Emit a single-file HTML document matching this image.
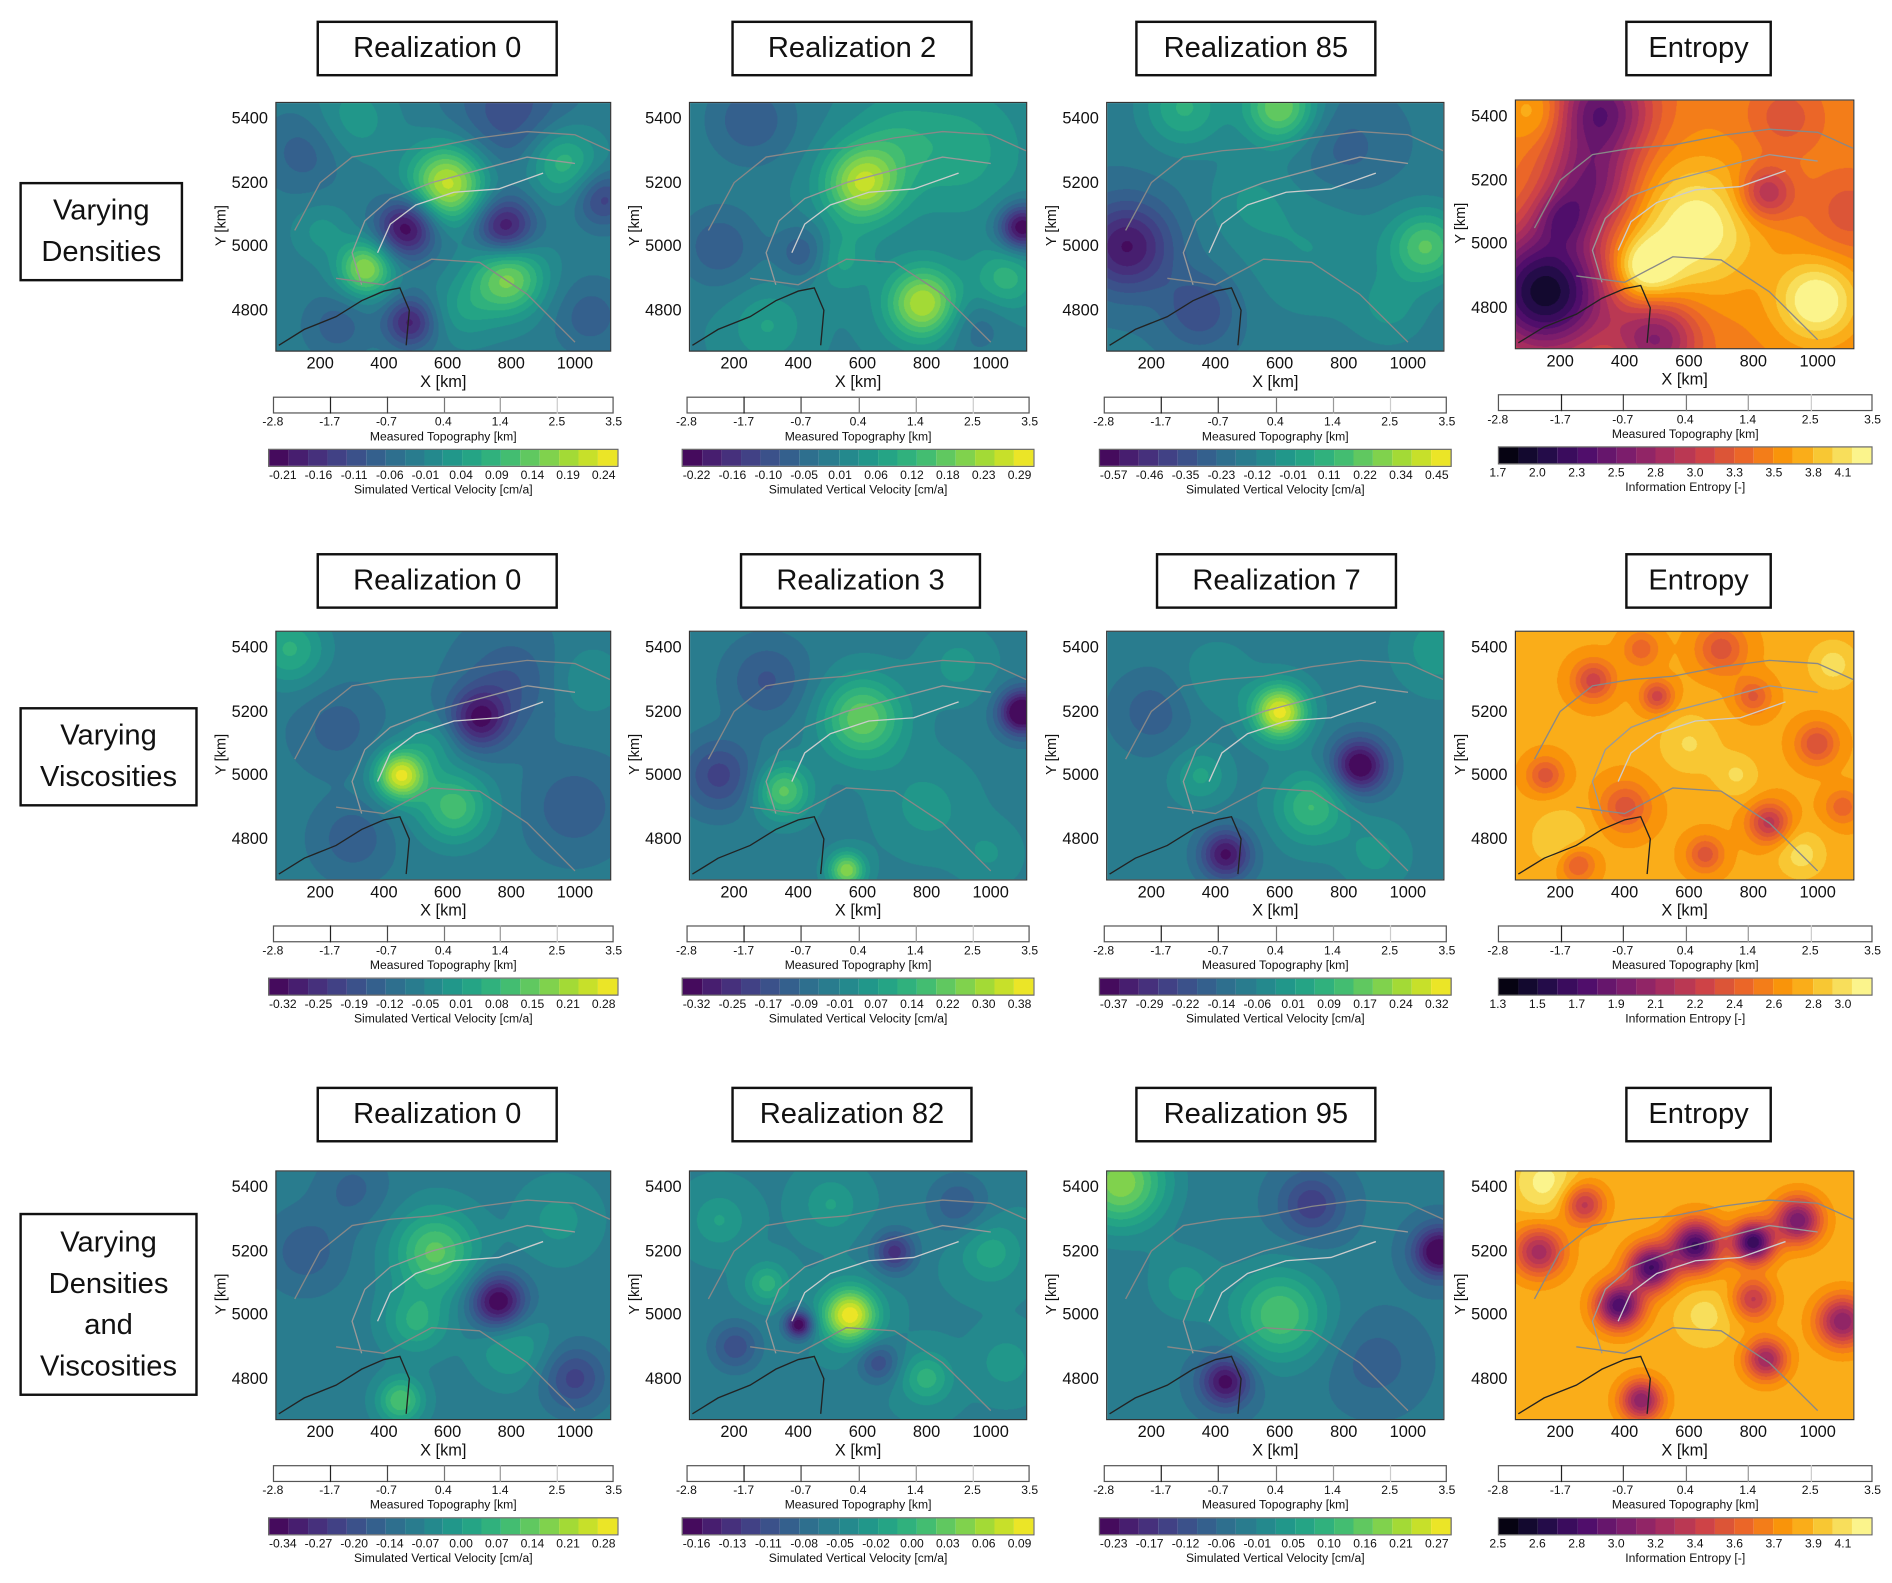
<!DOCTYPE html>
<html><head><meta charset="utf-8">
<style>
html,body{margin:0;padding:0;background:#fff;width:1892px;height:1583px;overflow:hidden}
#wrap{position:absolute;left:0;top:0;width:1560px;height:1305px;transform:scale(1.21282);transform-origin:0 0;font-family:"Liberation Sans","DejaVu Sans",sans-serif;color:#111}
.box{position:absolute;border:2px solid #111;background:#fff;display:flex;align-items:center;justify-content:center;text-align:center;font-size:24px;line-height:34px;box-sizing:border-box}
.abs{position:absolute}
.t{position:absolute;font-size:13.5px;white-space:nowrap;transform:translateX(-50%)}
.ty{position:absolute;font-size:13.5px;white-space:nowrap;text-align:right;width:40px}
.s{position:absolute;font-size:10px;white-space:nowrap;transform:translateX(-50%)}
canvas{position:absolute;border:1px solid #333;box-sizing:border-box}
</style></head><body>
<div id="wrap"></div>
<script>
// ---------------- data ----------------
const rowLabels = [["Varying","Densities"],["Varying","Viscosities"],["Varying","Densities","and","Viscosities"]];
const panelTitles = [["Realization 0","Realization 2","Realization 85","Entropy"],
                     ["Realization 0","Realization 3","Realization 7","Entropy"],
                     ["Realization 0","Realization 82","Realization 95","Entropy"]];
const xTicks = [200,400,600,800,1000];
const yTicks = [4800,5000,5200,5400];
const topoTicks = ["-2.8","-1.7","-0.7","0.4","1.4","2.5","3.5"];
const cbarLabels = [
 [["-0.21","-0.16","-0.11","-0.06","-0.01","0.04","0.09","0.14","0.19","0.24"],["-0.22","-0.16","-0.10","-0.05","0.01","0.06","0.12","0.18","0.23","0.29"],["-0.57","-0.46","-0.35","-0.23","-0.12","-0.01","0.11","0.22","0.34","0.45"],["1.7","2.0","2.3","2.5","2.8","3.0","3.3","3.5","3.8","4.1"]],
 [["-0.32","-0.25","-0.19","-0.12","-0.05","0.01","0.08","0.15","0.21","0.28"],["-0.32","-0.25","-0.17","-0.09","-0.01","0.07","0.14","0.22","0.30","0.38"],["-0.37","-0.29","-0.22","-0.14","-0.06","0.01","0.09","0.17","0.24","0.32"],["1.3","1.5","1.7","1.9","2.1","2.2","2.4","2.6","2.8","3.0"]],
 [["-0.34","-0.27","-0.20","-0.14","-0.07","0.00","0.07","0.14","0.21","0.28"],["-0.16","-0.13","-0.11","-0.08","-0.05","-0.02","0.00","0.03","0.06","0.09"],["-0.23","-0.17","-0.12","-0.06","-0.01","0.05","0.10","0.16","0.21","0.27"],["2.5","2.6","2.8","3.0","3.2","3.4","3.6","3.7","3.9","4.1"]]];
// field bases (normalised colour position) and blobs [x km, y km, sigma km, amplitude]
const fieldBase = [[0.42,0.44,0.40,0.72],[0.40,0.42,0.42,0.80],[0.42,0.44,0.40,0.82]];
const fieldBlobs = [
 [
  [[600,5200,85,0.5],[340,4930,60,0.42],[790,4900,80,0.38],[470,5060,65,-0.42],[780,5060,65,-0.38],[480,4760,55,-0.32],[800,5420,130,-0.18],[960,5270,80,0.25],[1090,5150,60,-0.22],[150,5300,90,-0.12],[250,4750,70,-0.12],[300,5400,90,0.12],[1050,4780,80,-0.12],[650,4800,70,0.12],[200,5050,60,0.1]],
  [[600,5200,85,0.45],[790,4820,80,0.45],[1100,5060,50,-0.45],[420,4980,60,-0.18],[520,4960,70,0.15],[900,5300,140,0.15],[150,5000,90,-0.15],[250,5400,100,-0.15],[1050,4900,70,0.2],[300,4750,80,0.12],[700,5350,90,0.1],[950,4750,70,-0.1]],
  [[600,5440,80,0.38],[300,5440,90,0.22],[120,5000,100,-0.35],[350,4800,80,-0.18],[1060,5000,80,0.32],[700,5000,170,0.1],[800,5300,110,-0.1],[500,5150,90,0.08],[950,4800,80,0.1]],
  [[150,4850,140,-0.65],[320,5420,110,-0.45],[130,5420,70,0.15],[620,5050,140,0.28],[1000,4820,90,0.3],[460,4920,70,0.3],[840,5160,60,-0.28],[500,4700,90,-0.35],[1100,5100,90,-0.12],[290,5180,100,-0.35],[900,5400,80,-0.12],[200,5080,60,-0.2]]
 ],[
  [[450,5000,55,0.55],[620,4900,80,0.3],[700,5180,65,-0.35],[100,5400,80,0.22],[1000,4900,90,-0.12],[300,4800,70,-0.12],[800,5300,100,-0.12],[250,5150,80,-0.1],[550,5100,60,0.12],[1050,5300,80,0.1]],
  [[600,5180,90,0.35],[1100,5200,50,-0.5],[350,4950,60,0.32],[150,5000,80,-0.22],[550,4700,40,0.4],[800,4900,110,0.1],[300,5300,90,-0.15],[900,5350,80,0.1],[1000,4750,70,0.08]],
  [[600,5200,60,0.55],[850,5030,60,-0.45],[430,4750,55,-0.38],[700,4900,80,0.25],[350,5000,60,0.15],[1100,5400,90,0.12],[200,5200,90,-0.12],[900,4750,70,0.1],[400,5300,80,0.08]],
  [[300,5300,45,-0.25],[700,5400,55,-0.2],[850,4850,45,-0.3],[200,4800,70,0.1],[600,5100,70,0.1],[1000,5100,45,-0.22],[400,4900,55,-0.2],[950,4750,55,0.12],[500,5250,35,-0.25],[1050,5350,55,0.12],[150,5000,40,-0.2],[650,4750,40,-0.2],[800,5250,40,-0.18],[250,4720,40,-0.2],[1080,4900,40,-0.15],[450,5400,40,-0.15],[750,5000,50,0.1]]
 ],[
  [[560,5200,90,0.32],[760,5040,60,-0.45],[500,4980,70,0.2],[1000,4800,70,-0.22],[450,4730,50,0.3],[800,4900,80,0.15],[150,5200,90,-0.12],[300,5400,80,-0.1],[950,5300,90,0.1]],
  [[560,5000,60,0.55],[400,4970,30,-0.45],[700,5200,45,-0.3],[300,5100,45,0.2],[800,4800,55,0.2],[1000,5200,70,0.15],[200,4900,55,-0.2],[900,5350,70,-0.15],[650,4850,45,-0.2],[500,5350,60,0.12],[150,5300,60,0.12],[1050,4850,60,0.1]],
  [[100,5420,100,0.42],[600,5000,100,0.32],[1100,5200,55,-0.45],[430,4790,55,-0.38],[700,5350,70,-0.22],[300,5100,80,0.12],[900,4850,90,-0.1]],
  [[380,5030,50,-0.6],[480,5150,50,-0.6],[620,5220,55,-0.62],[800,5230,45,-0.65],[940,5300,50,-0.5],[1080,4980,55,-0.45],[840,4860,45,-0.4],[450,4730,45,-0.45],[800,5050,45,-0.3],[130,5200,55,-0.38],[270,5350,45,-0.32],[150,5420,70,0.15],[650,5000,60,0.1]]
 ]];
// topography contours in km coordinates
const contourOuter = [[120,5050],[200,5200],[300,5280],[420,5300],[550,5310],[700,5340],[850,5360],[1000,5350],[1110,5300]];
const contourMid = [[330,4880],[300,4980],[340,5080],[420,5150],[550,5200],[700,5240],[850,5280],[1000,5260]];
const contourInner = [[380,4980],[420,5070],[500,5130],[620,5170],[760,5180],[900,5230]];
const contourSouth = [[250,4900],[400,4880],[550,4960],[700,4950],[850,4850],[1000,4700]];
const coastline = [[70,4690],[150,4740],[250,4780],[330,4830],[400,4860],[450,4870],[480,4800],[470,4690]];

// ---------------- layout ----------------
const wrap = document.getElementById('wrap');
const plotLeft = [227,568,912,1249];
const plotW = [277,279,279,280];
const rowTop = [84,520,965];
const plotH = 206;
const titleBox = [[261,199],[603,199],[936,199],[1340,121]];
const titleBoxRow2 = [[261,199],[610,199],[953,199],[1340,121]];
const rowBox = [[16,150,135,82],[16,583,147,82],[16,1000,147,151]];
const titleTop = [17,456,896];
const XMIN=59, XMAX=1114, YMIN=4670, YMAX=5453;

const viridis=["#440154","#482878","#3e4989","#31688e","#26828e","#1f9e89","#35b779","#6ece58","#b5de2b","#fde725"];
const inferno=["#000004","#1b0c41","#4a0c6b","#781c6d","#a52c60","#cf4446","#ed6925","#fb9b06","#f7d13d","#fcffa4"];
function hex(h){return [parseInt(h.substr(1,2),16),parseInt(h.substr(3,2),16),parseInt(h.substr(5,2),16)];}
function cmap(stops,t){t=Math.max(0,Math.min(1,t));const p=t*(stops.length-1);const i=Math.min(Math.floor(p),stops.length-2);const f=p-i;const a=hex(stops[i]),b=hex(stops[i+1]);return [a[0]+(b[0]-a[0])*f,a[1]+(b[1]-a[1])*f,a[2]+(b[2]-a[2])*f];}

function el(tag,cls,name,parent){const e=document.createElement(tag);if(cls)e.className=cls;(parent||wrap).appendChild(e);return e;}

for(let r=0;r<3;r++){
  const rb=rowBox[r];
  const b=el('div','box','row-label-'+(r+1));
  b.style.cssText+=`left:${rb[0]}px;top:${rb[1]}px;width:${rb[2]}px;height:${rb[3]}px;`;
  b.innerHTML=rowLabels[r].join('<br>');
  for(let c=0;c<4;c++){
    const tb=(r===1?titleBoxRow2:titleBox)[c];
    const tbox=el('div','box','panel-title');
    tbox.style.cssText+=`left:${tb[0]}px;top:${titleTop[r]}px;width:${tb[1]}px;height:46px;`;
    tbox.textContent=panelTitles[r][c];
    const L=plotLeft[c],T=rowTop[r]-(c===3&&r===0?2:0),W=plotW[c],H=plotH;
    const sx=v=>L+(v-XMIN)/(XMAX-XMIN)*W;
    const sy=v=>T+(YMAX-v)/(YMAX-YMIN)*H;
    // heatmap
    const cv=el('canvas','','heatmap-r'+(r+1)+'c'+(c+1));
    cv.width=W*2;cv.height=H*2;
    cv.style.cssText=`left:${L}px;top:${T}px;width:${W}px;height:${H}px;`;
    const ctx=cv.getContext('2d');const img=ctx.createImageData(cv.width,cv.height);
    const blobs=fieldBlobs[r][c],base=fieldBase[r][c];const stops=c===3?inferno:viridis;const levels=c===3?19:18;
    for(let py=0;py<cv.height;py++){const yk=YMAX-(py/cv.height)*(YMAX-YMIN);
      for(let px=0;px<cv.width;px++){const xk=XMIN+(px/cv.width)*(XMAX-XMIN);
        let v=base;for(const bl of blobs){const dx=xk-bl[0],dy=yk-bl[1];v+=bl[3]*Math.exp(-(dx*dx+dy*dy)/(2*bl[2]*bl[2]));}
        v=Math.max(0,Math.min(0.999,v));v=(Math.floor(v*levels)+0.5)/levels;
        const col=cmap(stops,v);const k=(py*cv.width+px)*4;img.data[k]=col[0];img.data[k+1]=col[1];img.data[k+2]=col[2];img.data[k+3]=255;}}
    ctx.putImageData(img,0,0);
    // contours
    const svg=document.createElementNS('http://www.w3.org/2000/svg','svg');
    
    
    svg.setAttribute('width','1560');svg.setAttribute('height','1305');
    svg.style.cssText='position:absolute;left:0;top:0;pointer-events:none';
    const lines=[[contourOuter,'#888'],[contourMid,'#999'],[contourInner,'#ccc'],[contourSouth,'#888'],[coastline,'#222']];
    for(const [pts,col] of lines){const p=document.createElementNS('http://www.w3.org/2000/svg','polyline');
      
      
      p.setAttribute('points',pts.map(q=>sx(q[0]).toFixed(1)+','+sy(q[1]).toFixed(1)).join(' '));
      p.setAttribute('fill','none');p.setAttribute('stroke',col);p.setAttribute('stroke-width','1.1');svg.appendChild(p);}
    wrap.appendChild(svg);
    // ticks
    for(const xt of xTicks){const t=el('div','t','x-tick-label');t.style.left=sx(xt)+'px';t.style.top=(T+H+2)+'px';t.textContent=xt;}
    const xl=el('div','t','x-axis-title');xl.style.left=(L+W/2)+'px';xl.style.top=(T+H+17)+'px';xl.textContent='X [km]';
    for(const yt of yTicks){const t=el('div','ty','y-tick-label');t.style.left=(L-46)+'px';t.style.top=(sy(yt)-8)+'px';t.textContent=yt;}
    const yl=el('div','abs','y-axis-title');yl.style.cssText+=`left:${L-62}px;top:${T+H/2-8}px;font-size:12px;transform:rotate(-90deg);white-space:nowrap;`;yl.textContent='Y [km]';
    // topography bar
    const bl=c===3?1235:L-2,bw=c===3?309:W+4,by=T+243;
    const tbar=el('div','abs','topography-colorbar');tbar.style.cssText+=`left:${bl}px;top:${by}px;width:${bw}px;height:14px;border:1px solid #555;box-sizing:border-box;background:#fff;`;
    topoTicks.forEach((lab,i)=>{const x=bl+i*bw/6;
      if(i>0&&i<6){const tk=el('div','abs','topography-tick');tk.style.cssText+=`left:${x}px;top:${by}px;width:1px;height:14px;background:${['','#222','#444','#777','#999','#ccc'][i]};`;}
      const t=el('div','s','topography-tick-label');t.style.left=x+'px';t.style.top=(by+16)+'px';t.textContent=lab;});
    const tt=el('div','s','topography-colorbar-title');tt.style.left=(bl+bw/2)+'px';tt.style.top=(by+28)+'px';tt.textContent='Measured Topography [km]';
    // value colorbar
    const vl=c===3?1235:L-6,vw=c===3?309:W+12,vy=T+286;
    const vbar=el('div','abs','value-colorbar');vbar.style.cssText+=`left:${vl}px;top:${vy}px;width:${vw}px;height:15px;border:1px solid #666;box-sizing:border-box;display:flex;`;
    for(let i=0;i<levels;i++){const cc=cmap(stops,(i+0.5)/levels);const cell=el('div','','colorbar-cell',vbar);cell.style.cssText+=`flex:1;background:rgb(${cc.map(Math.round).join(',')});`;}
    const labs=cbarLabels[r][c];
    labs.forEach((lab,i)=>{const t=el('div','s','value-tick-label');t.style.left=(c===3?vl+i*2*vw/levels+(i===9?-vw/levels*0.5:0):vl+vw*(i+0.5)/10+(i-4.5)*0.5)+'px';t.style.top=(vy+17)+'px';t.textContent=lab;});
    const vt=el('div','s','value-colorbar-title');vt.style.left=(vl+vw/2)+'px';vt.style.top=(vy+29)+'px';vt.textContent=c===3?'Information Entropy [-]':'Simulated Vertical Velocity [cm/a]';
  }
}
</script>
</body></html>
